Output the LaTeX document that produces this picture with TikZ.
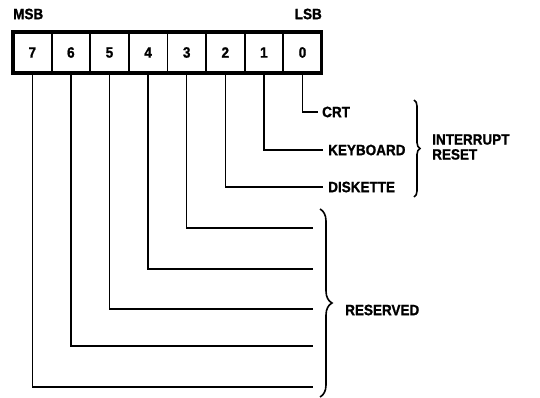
\documentclass[tikz,border=0pt]{standalone}
\usepackage{fontspec}
\setmainfont{Liberation Sans}
\newfontfamily\lblfont[FakeStretch=0.9, FakeBold=1.2]{Liberation Sans}
\usetikzlibrary{decorations.pathreplacing}
\begin{document}
\begin{tikzpicture}[x=1pt,y=-1pt,
  lbl/.style={font=\lblfont\bfseries\fontsize{15}{15}\selectfont, inner sep=0pt},
  wire/.style={line width=1.5pt},
  cell/.style={draw, line width=1.8pt, minimum width=38.6pt, minimum height=41pt,
    inner sep=0pt, outer sep=0pt, font=\lblfont\bfseries\fontsize{15}{15}\selectfont},
  bracestyle/.style={line width=1.6pt, decorate}]
\useasboundingbox (0,0) rectangle (540,398);
% register cells
\node[cell] (b7) at (32.3,52.5) {7};
\node[cell] (b6) at (70.9,52.5) {6};
\node[cell] (b5) at (109.5,52.5) {5};
\node[cell] (b4) at (148.1,52.5) {4};
\node[cell] (b3) at (186.7,52.5) {3};
\node[cell] (b2) at (225.3,52.5) {2};
\node[cell] (b1) at (263.9,52.5) {1};
\node[cell] (b0) at (302.5,52.5) {0};
\draw[line width=3.2pt] (b7.north west) rectangle (b0.south east);
\node[lbl, anchor=west] (msb) at (13,14) {MSB};
\node[lbl, anchor=east] (lsb) at (322,14) {LSB};
% end points
\coordinate (e0) at (318,112);
\coordinate (e1) at (323,150);
\coordinate (e2) at (323,187);
\coordinate (e3) at (313,228);
\coordinate (e4) at (313,269);
\coordinate (e5) at (313,309);
\coordinate (e6) at (313,346);
\coordinate (e7) at (313,387);
\foreach \i in {0,...,7} {\draw[wire] (b\i.south) |- (e\i);}
% labels
\node[lbl, anchor=west] (crt) at (322,112) {CRT};
\node[lbl, anchor=west] (kbd) at (328,150) {KEYBOARD};
\node[lbl, anchor=west] (dsk) at (328,187) {DISKETTE};
\draw[bracestyle, decoration={brace, amplitude=6pt}] (414,100) -- (414,197);
\node[lbl, anchor=west, align=left] (irst) at (432,147) {INTERRUPT\\RESET};
\draw[bracestyle, decoration={brace, amplitude=12pt}] (320,209) -- (320,397);
\node[lbl, anchor=west] (res) at (345,310) {RESERVED};
\end{tikzpicture}
\end{document}
